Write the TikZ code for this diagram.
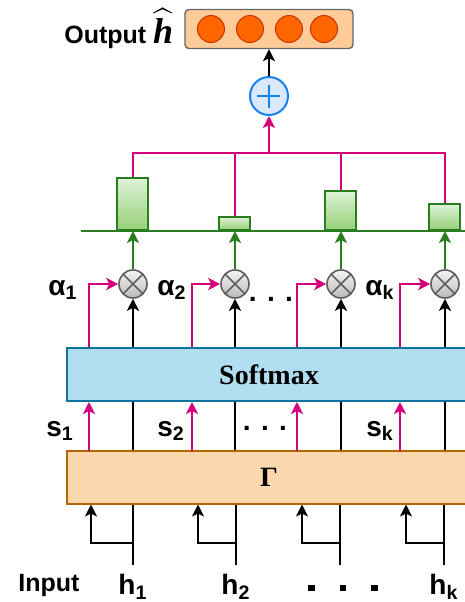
\documentclass[tikz,border=0pt]{standalone}
\usepackage{amsmath}
\usepackage{fontspec}
\setmainfont{Liberation Serif}
\setsansfont{Liberation Sans}
\usepackage{xcolor}
\usepackage{tikz}
\usetikzlibrary{positioning}
\usetikzlibrary{arrows.meta}

\definecolor{attnpink}{RGB}{214,0,122}
\definecolor{attngreen}{RGB}{40,125,30}
\definecolor{bartop}{RGB}{222,242,215}
\definecolor{barbot}{RGB}{150,208,120}
\definecolor{smfill}{RGB}{177,221,240}
\definecolor{smdraw}{RGB}{16,115,158}
\definecolor{gmfill}{RGB}{250,215,172}
\definecolor{gmdraw}{RGB}{180,101,4}
\definecolor{outfill}{RGB}{255,204,153}
\definecolor{unitfill}{RGB}{255,102,0}
\definecolor{unitdraw}{RGB}{199,53,0}
\definecolor{sumfill}{RGB}{218,232,252}
\definecolor{sumdraw}{RGB}{20,130,240}

\begin{document}
\begin{tikzpicture}[
  x=0.5pt, y=-0.5pt,
  lbl/.style={font=\sffamily\bfseries\fontsize{14}{16}\selectfont, inner sep=1pt},
  side/.style={font=\sffamily\bfseries\fontsize{12.5}{15}\selectfont},
  layer/.style={rectangle, draw=#1, line width=1pt, minimum width=202pt, minimum height=26.5pt, font=\rmfamily\bfseries\fontsize{14}{16}\selectfont},
  outbox/.style={rectangle, rounded corners=2pt, draw=gray!80!black, fill=outfill, line width=0.7pt, minimum width=84pt, minimum height=19.5pt},
  unit/.style={circle, draw=unitdraw, fill=unitfill, line width=0.5pt, minimum size=13.5pt, inner sep=0pt},
  adder/.style={circle, draw=sumdraw, fill=sumfill, line width=1pt, minimum size=19pt, inner sep=0pt,
    path picture={\draw[sumdraw, line width=1pt] (path picture bounding box.center) ++(-5.75pt,0pt) -- ++(11.5pt,0pt)
      (path picture bounding box.center) ++(0pt,-5.75pt) -- ++(0pt,11.5pt);}},
  mult/.style={circle, draw=gray!75!black, line width=0.8pt, top color=gray!8, bottom color=gray!55, minimum size=14pt, inner sep=0pt,
    path picture={\draw[gray!75!black, line width=0.8pt] (path picture bounding box.center) ++(45:7pt) -- ++(225:14pt)
      (path picture bounding box.center) ++(135:7pt) -- ++(315:14pt);}},
  bar/.style={rectangle, draw=attngreen, line width=1pt, top color=bartop, bottom color=barbot, minimum width=15.5pt, anchor=south, inner sep=0pt},
  pk/.style={draw=attnpink, line width=1pt},
  pkarr/.style={pk, -{Stealth[length=6pt, width=6pt, inset=1.5pt]}},
  blk/.style={draw=black, line width=1pt},
  blkarr/.style={blk, -{Stealth[length=6pt, width=6pt, inset=1.5pt]}},
  grarr/.style={draw=attngreen, line width=1pt, -{Stealth[length=6pt, width=6pt, inset=1.5pt]}},
]
  \useasboundingbox (0,0) rectangle (465,602);

  \node[outbox] (out) at (269,29) {};
  \node[unit] (u1) at (211,29) {};
  \node[unit] (u2) at (250,29) {};
  \node[unit] (u3) at (289,29) {};
  \node[unit] (u4) at (324,29) {};
  \node[side] (outlbl) [left=2pt of out] {Output~{\fontsize{18}{20}\selectfont$\widehat{\text{\rmfamily\bfseries\itshape h}}$}};

  \node[adder] (sum) at (269,96) {};
  \draw[blkarr] (sum) -- (out);

  \coordinate (axl) at (81,231);
  \coordinate (axr) at (470,231);
  \draw[draw=attngreen, line width=1pt] (axl) -- (axr);

  \node[bar, minimum height=26pt] (b1) at (133,231) {};
  \node[bar, minimum height=6.5pt] (b2) at (235,231) {};
  \node[bar, minimum height=19.5pt] (b3) at (341,231) {};
  \node[bar, minimum height=13pt] (b4) at (445,231) {};

  \coordinate (join) at (269,153);
  \draw[pk] (b1.north) |- (join) -| (b4.north);
  \draw[pk] (b2.north) |- (join);
  \draw[pk] (b3.north) |- (join);
  \draw[pkarr] (join) -- (sum);

  \node[mult] (m1) at (133,284) {};
  \node[mult] (m2) at (235,284) {};
  \node[mult] (m3) at (341,284) {};
  \node[mult] (m4) at (445,284) {};

  \draw[grarr] (m1) -- (b1.south);
  \draw[grarr] (m2) -- (b2.south);
  \draw[grarr] (m3) -- (b3.south);
  \draw[grarr] (m4) -- (b4.south);

  \node[lbl] (a1) at (63,290) {α\textsubscript{1}};
  \node[lbl] (a2) at (172,290) {α\textsubscript{2}};
  \node[lbl] (ak) at (380,290) {α\textsubscript{k}};
  \node[lbl] (adots) at (271,299) {. . .};

  \node[layer=smdraw, fill=smfill] (softmax) at (269,374.5) {Softmax};
  \node[layer=gmdraw, fill=gmfill] (gamma) at (269,477) {Γ};

  \coordinate (p1) at (89,451);
  \coordinate (p2) at (192,451);
  \coordinate (p3) at (297,451);
  \coordinate (p4) at (400,451);

  \draw[blkarr] (softmax.north -| m1) -- (m1);
  \draw[blkarr] (softmax.north -| m2) -- (m2);
  \draw[blkarr] (softmax.north -| m3) -- (m3);
  \draw[blkarr] (softmax.north -| m4) -- (m4);

  \draw[pkarr] (softmax.north -| p1) |- (m1);
  \draw[pkarr] (softmax.north -| p2) |- (m2);
  \draw[pkarr] (softmax.north -| p3) |- (m3);
  \draw[pkarr] (softmax.north -| p4) |- (m4);

  \draw[pkarr] (p1) -- (softmax.south -| p1);
  \draw[pkarr] (p2) -- (softmax.south -| p2);
  \draw[pkarr] (p3) -- (softmax.south -| p3);
  \draw[pkarr] (p4) -- (softmax.south -| p4);

  \draw[blk] (gamma.north -| m1) -- (softmax.south -| m1);
  \draw[blk] (gamma.north -| m2) -- (softmax.south -| m2);
  \draw[blk] (gamma.north -| m3) -- (softmax.south -| m3);
  \draw[blk] (gamma.north -| m4) -- (softmax.south -| m4);

  \node[lbl] (s1) at (60,431) {s\textsubscript{1}};
  \node[lbl] (s2) at (171,431) {s\textsubscript{2}};
  \node[lbl] (sk) at (380,431) {s\textsubscript{k}};
  \node[lbl] (sdots) at (265,428) {. . .};

  \node[lbl, anchor=north, inner sep=4.5pt] (h1) at (133,565) {h\textsubscript{1}};
  \node[lbl, anchor=north, inner sep=4.5pt] (h2) at (236,565) {h\textsubscript{2}};
  \node[lbl, anchor=north, inner sep=4.5pt] (hk) at (444,565) {h\textsubscript{k}};
  \node (hdots) at (343,588) {\rule{3.25pt}{3.25pt}\hspace{12.5pt}\rule{3.25pt}{3.25pt}\hspace{12.5pt}\rule{3.25pt}{3.25pt}};
  \node[side] (inlbl) at (49,585) {Input};

  \coordinate (t3) at (340,565);
  \coordinate (k1) at (91,543);
  \coordinate (k2) at (198,543);
  \coordinate (k3) at (302,543);
  \coordinate (k4) at (406,543);

  \draw[blk] (h1) -- (h1 |- gamma.south);
  \draw[blk] (h2) -- (h2 |- gamma.south);
  \draw[blk] (t3) -- (t3 |- gamma.south);
  \draw[blk] (hk) -- (hk |- gamma.south);

  \draw[blkarr] (h1 |- k1) -| (gamma.south -| k1);
  \draw[blkarr] (h2 |- k2) -| (gamma.south -| k2);
  \draw[blkarr] (t3 |- k3) -| (gamma.south -| k3);
  \draw[blkarr] (hk |- k4) -| (gamma.south -| k4);
\end{tikzpicture}
\end{document}
